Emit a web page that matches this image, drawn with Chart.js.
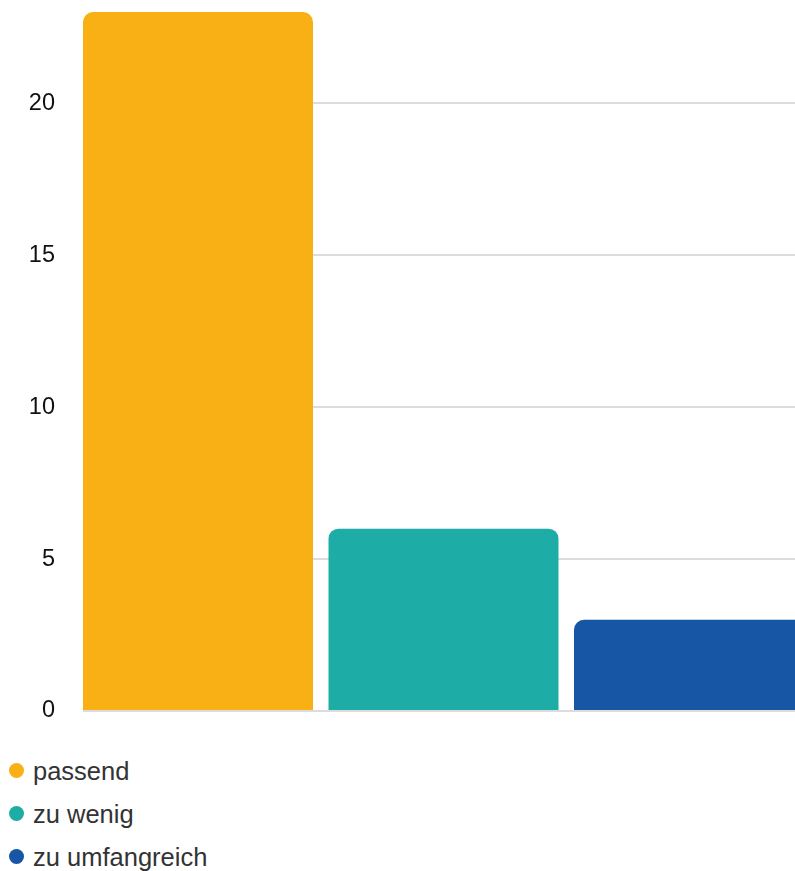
<!DOCTYPE html>
<html>
<head>
<meta charset="utf-8">
<script src="https://cdn.jsdelivr.net/npm/chart.js@4/dist/chart.umd.min.js"></script>
<style>
  html, body { margin: 0; padding: 0; background: #fff; overflow: hidden; }
  #wrap { position: relative; width: 795px; height: 720px; }
  #legend { position: absolute; left: 0; top: 750px; font-family: "Liberation Sans", Arial, sans-serif; font-size: 25.5px; color: #333; }
  .item { position: absolute; left: 9px; height: 30px; white-space: nowrap; }
  .dot { position: absolute; left: 0; top: 7px; width: 15px; height: 15px; border-radius: 50%; }
  .lbl { position: absolute; left: 24px; top: 0; line-height: 30px; }
</style>
</head>
<body>
<div id="wrap"><canvas id="c" width="795" height="720"></canvas></div>
<div id="legend"></div>
<script>
const categories = ['passend', 'zu wenig', 'zu umfangreich'];
const values = [23, 6, 3];
const colors = ['#F9B015', '#1DADA6', '#1656A5'];
const yTicks = [0, 5, 10, 15, 20];

const barFrac = 230 / 245.5;
const chartW = 712;
const unitPx = 245.5;
const xMin = -barFrac / 2;
const xMax = xMin + chartW / unitPx;

new Chart(document.getElementById('c'), {
  type: 'bar',
  data: {
    datasets: [{
      data: values.map((v, i) => ({ x: i, y: v })),
      backgroundColor: colors,
      borderWidth: 0,
      borderRadius: 10,
      categoryPercentage: 1,
      barPercentage: barFrac
    }]
  },
  options: {
    responsive: false,
    animation: false,
    layout: { padding: { top: 12, bottom: 9, left: 0, right: 0 } },
    plugins: { legend: { display: false }, tooltip: { enabled: false } },
    scales: {
      x: {
        type: 'linear',
        display: false,
        offset: false,
        min: xMin,
        max: xMax,
        grid: { display: false, offset: false },
        afterBuildTicks: s => { s.ticks = categories.map((c, i) => ({ value: i })); }
      },
      y: {
        min: 0,
        max: Math.max(...values),
        border: { display: false },
        grid: { color: '#dcdcdc', lineWidth: 2, drawTicks: false },
        afterBuildTicks: s => { s.ticks = yTicks.map(v => ({ value: v })); },
        ticks: {
          padding: 28,
          color: '#111',
          font: { family: '"Liberation Sans", Arial, sans-serif', size: 23.5 }
        },
        afterFit: s => { s.width = 83; s.paddingTop = 0; s.paddingBottom = 0; }
      }
    }
  }
});

const lg = document.getElementById('legend');
categories.forEach((c, i) => {
  const it = document.createElement('div');
  it.className = 'item';
  it.style.top = (i * 43 + 6) + 'px';
  const d = document.createElement('span');
  d.className = 'dot';
  d.style.background = colors[i];
  const t = document.createElement('span');
  t.className = 'lbl';
  t.textContent = c;
  it.appendChild(d); it.appendChild(t);
  lg.appendChild(it);
});
</script>
</body>
</html>
